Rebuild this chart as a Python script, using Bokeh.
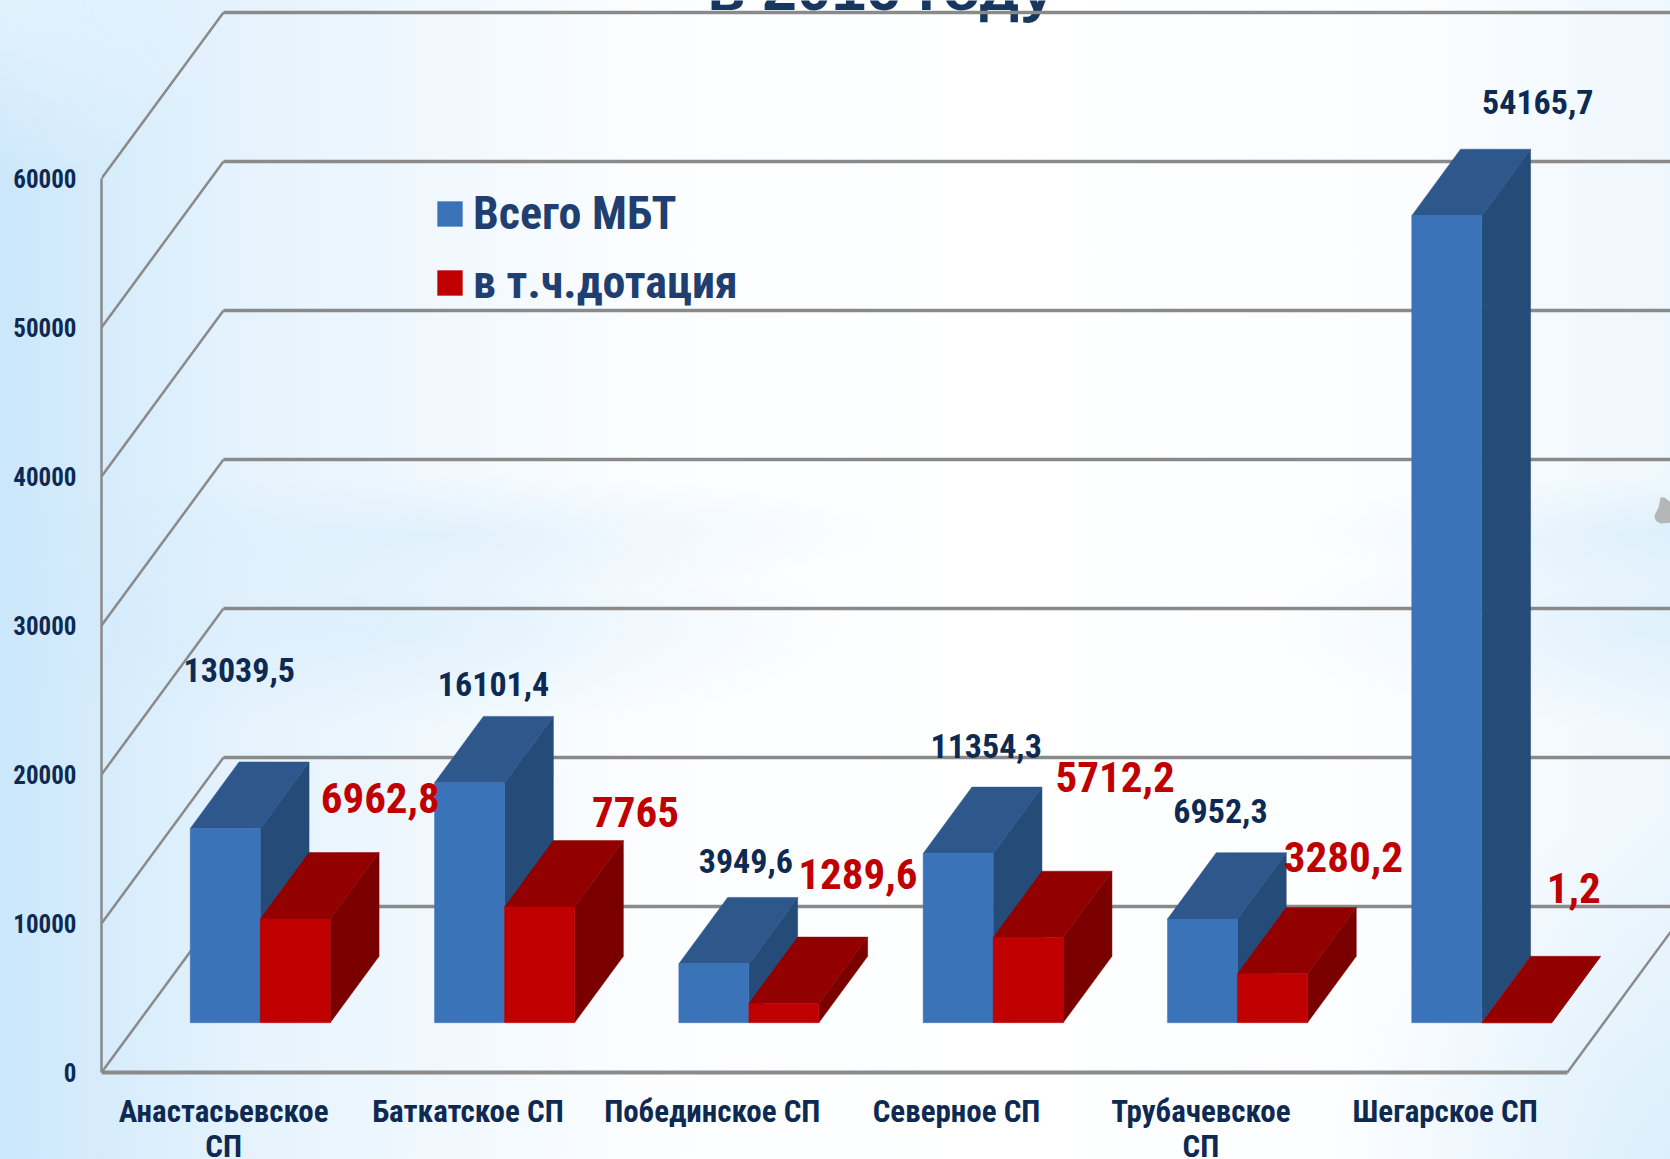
from bokeh.plotting import figure
from bokeh.embed import file_html
from bokeh.resources import INLINE
from bokeh.core.properties import value
from bokeh.models import FixedTicker, Legend, LegendItem, ColumnDataSource

categories = ["Анастасьевское\nСП", "Баткатское СП", "Побединское СП", "Северное СП", "Трубачевское\nСП", "Шегарское СП"]
total_mbt = [13039.5, 16101.4, 3949.6, 11354.3, 6952.3, 54165.7]
dotation = [6962.8, 7765, 1289.6, 5712.2, 3280.2, 1.2]
total_labels = ["13039,5", "16101,4", "3949,6", "11354,3", "6952,3", "54165,7"]
dotation_labels = ["6962,8", "7765", "1289,6", "5712,2", "3280,2", "1,2"]
y_ticks = [0, 10000, 20000, 30000, 40000, 50000, 60000]

# pixel layout of the oblique "3D" frame
W, H = 1670, 1159
LEFT, FLOOR_Y = 101, 1072
CAT_PX = 244.3
VAL_PX = 149 / 10000
DEPTH_DX, DEPTH_DY = 122 / CAT_PX, 166 / VAL_PX   # full floor depth in data units
BAR_W = 70 / CAT_PX
BAR_D0, BAR_D1 = 0.30, 0.70
FONT = "Roboto Condensed"
GRID = "#8a8a8a"
Y_TOP = FLOOR_Y / VAL_PX

p = figure(width=W, height=H, output_backend="svg", toolbar_location=None,
           x_range=(0, (W - LEFT) / CAT_PX), y_range=(-(H - FLOOR_Y) / VAL_PX, Y_TOP),
           min_border_left=LEFT, min_border_right=0, min_border_top=0,
           min_border_bottom=0, border_fill_alpha=0, background_fill_alpha=0,
           outline_line_alpha=0)
p.styles = {
    "position": "absolute", "left": "0", "top": "0",
    "background": "radial-gradient(ellipse 14% 16% at 0% 0%, rgba(255,255,255,.45), rgba(255,255,255,0)), "
                  "radial-gradient(ellipse 28% 5% at 27% 46%, rgba(205,232,250,.4), rgba(205,232,250,0)), "
                  "radial-gradient(ellipse 22% 5% at 100% 46%, rgba(205,232,250,.45), rgba(205,232,250,0)), "
                  "radial-gradient(ellipse 28% 9% at 24% 54%, rgba(205,232,250,.45), rgba(205,232,250,0)), "
                  "radial-gradient(ellipse 24% 9% at 100% 54%, rgba(205,232,250,.45), rgba(205,232,250,0)), "
                  "radial-gradient(ellipse 20% 30% at 100% 100%, rgba(205,232,250,.55), rgba(205,232,250,0)), "
                  "linear-gradient(to right, #cbe7fb 0%, #e6f3fd 15%, #fbfdff 38%, #ffffff 60%, #fbfdff 85%, #eef7fd 100%)",
}
p.grid.visible = False

ax = p.yaxis[0]
ax.ticker = FixedTicker(ticks=y_ticks)
ax.bounds = (0, 60000)
ax.axis_line_color = GRID
ax.axis_line_width = 2.5
ax.major_tick_line_alpha = 0
ax.minor_tick_line_alpha = 0
ax.major_label_standoff = 19
ax.major_label_text_font = FONT
ax.major_label_text_font_style = "bold"
ax.major_label_text_font_size = "25px"
ax.major_label_text_color = "#0E2A52"

bx = p.xaxis[0]
bx.fixed_location = 0
bx.ticker = FixedTicker(ticks=[i + 0.5 for i in range(6)])
bx.major_label_overrides = {i + 0.5: c for i, c in enumerate(categories)}
bx.bounds = (0, 6)
bx.axis_line_color = GRID
bx.axis_line_width = 4
bx.major_tick_line_alpha = 0
bx.minor_tick_line_alpha = 0
bx.major_label_standoff = 14
bx.major_label_text_font = FONT
bx.major_label_text_font_style = "bold"
bx.major_label_text_font_size = "31px"
bx.major_label_text_color = "#0E2A52"
bx.major_label_text_line_height = 0.95
bx.major_label_orientation = "horizontal"

# clipped slide title at the very top (gridline runs over it, as in the reference)
p.text([3.19], [Y_TOP], text=["в 2016 году"], y_offset=[-12],
       text_font=value("Liberation Sans"), text_font_style="bold", text_font_size="62px",
       text_color="#17375E", text_align="center", text_baseline="alphabetic")

x_end = (W - LEFT) / CAT_PX + DEPTH_DX
for v in y_ticks:
    back = v + DEPTH_DY
    p.line([0, DEPTH_DX], [v, back], line_color=GRID, line_width=2.5)
    p.line([DEPTH_DX, x_end], [back, back], line_color=GRID, line_width=3.5)
p.line([6, 6 + DEPTH_DX], [0, DEPTH_DY], line_color=GRID, line_width=2.5)


def gx(px):
    return (px - LEFT) / CAT_PX


def gy(py):
    return (FLOOR_Y - py) / VAL_PX


# small grey decoration clipped by the right edge of the slide
p.patch([gx(a) for a in (1654, 1658, 1660, 1664, 1672, 1672, 1660, 1655)],
        [gy(b) for b in (515, 507, 497, 497, 503, 522, 523, 520)],
        fill_color="#b4b6b8", line_color=None)


def faces(values, slot):
    front, top, side = [[], []], [[], []], [[], []]
    for i, v in enumerate(values):
        x0 = i + 0.5 + BAR_D0 * DEPTH_DX + (slot - 1) * BAR_W
        x1 = x0 + BAR_W
        y0 = BAR_D0 * DEPTH_DY
        y1 = y0 + v
        ddx = (BAR_D1 - BAR_D0) * DEPTH_DX
        ddy = (BAR_D1 - BAR_D0) * DEPTH_DY
        front[0].append([x0, x1, x1, x0])
        front[1].append([y0, y0, y1, y1])
        top[0].append([x0, x1, x1 + ddx, x0 + ddx])
        top[1].append([y1, y1, y1 + ddy, y1 + ddy])
        side[0].append([x1, x1 + ddx, x1 + ddx, x1])
        side[1].append([y0, y0 + ddy, y1 + ddy, y1])
    return front, top, side


def draw(values, slot, c_front, c_top, c_side):
    f, t, s = faces(values, slot)
    p.patches(s[0], s[1], fill_color=c_side, line_color=c_side, line_width=0.5)
    p.patches(t[0], t[1], fill_color=c_top, line_color=c_top, line_width=0.5)
    return p.patches(f[0], f[1], fill_color=c_front, line_color=c_front, line_width=0.5)


r_blue = draw(total_mbt, 0, "#3B73B9", "#2E578C", "#254B79")
r_red = draw(dotation, 1, "#C00000", "#920000", "#7A0000")

# data labels: placed from the bar top, with hand-set pixel nudges
blue_dx = [14, 24, 32, 28, 18, 91]
blue_dy = [158, 99, 103, 108, 108, 114]
red_dx = [85, 96, 74, 87, 71, 57]
red_dy = [121, 95, 129, 161, 117, 135]


def labels(values, slot, texts, dx, dy, color, size):
    xs = [i + 0.5 + BAR_D0 * DEPTH_DX + (slot - 0.5) * BAR_W for i in range(6)]
    ys = [BAR_D0 * DEPTH_DY + v for v in values]
    src = ColumnDataSource(dict(x=xs, y=ys, t=texts, dx=dx, dy=[-d for d in dy]))
    p.text("x", "y", text="t", source=src, x_offset="dx", y_offset="dy",
           text_font=value(FONT), text_font_style="bold", text_font_size=size,
           text_color=color, text_align="center", text_baseline="middle")


labels(total_mbt, 0, total_labels, blue_dx, blue_dy, "#0E2A52", "34px")
labels(dotation, 1, dotation_labels, red_dx, red_dy, "#C00000", "43px")

legend = Legend(items=[LegendItem(label="Всего МБТ", renderers=[r_blue]),
                       LegendItem(label="в т.ч.дотация", renderers=[r_red])],
                location=(333, 763 + (H - FLOOR_Y)), orientation="vertical", background_fill_alpha=0,
                border_line_alpha=0, glyph_width=31, glyph_height=31, label_standoff=8,
                spacing=15, padding=0, margin=0, label_text_font=FONT,
                label_text_font_style="bold", label_text_font_size="46px",
                label_text_color="#1F3F70", label_height=46)
p.add_layout(legend)

open("out.html", "w").write(file_html(p, INLINE))
